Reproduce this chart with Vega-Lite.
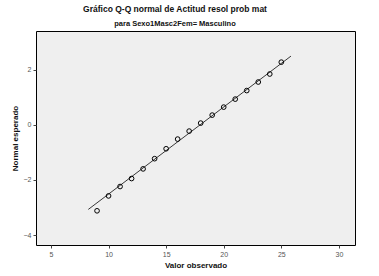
{
  "$schema": "https://vega.github.io/schema/vega-lite/v6.json",
  "width": 319,
  "height": 214,
  "autosize": "none",
  "padding": {"left": 36, "top": 31, "right": 24, "bottom": 31},
  "background": "white",
  "title": {
    "text": "Gráfico Q-Q normal de Actitud resol prob mat",
    "subtitle": "para Sexo1Masc2Fem= Masculino",
    "font": "Liberation Sans",
    "fontSize": 8.5,
    "fontWeight": "bold",
    "color": "#111111",
    "subtitleFont": "Liberation Sans",
    "subtitleFontSize": 7.5,
    "subtitleFontWeight": "bold",
    "subtitleColor": "#111111",
    "subtitlePadding": 6,
    "anchor": "middle",
    "frame": "bounds",
    "offset": 4,
    "dx": -8
  },
  "config": {
    "view": {"fill": "#efefef", "stroke": "#000000", "strokeWidth": 1},
    "axis": {
      "grid": false,
      "domain": false,
      "tickColor": "#444444",
      "tickSize": 3,
      "labelFont": "Liberation Sans",
      "labelFontSize": 7,
      "labelColor": "#555555",
      "labelPadding": 2,
      "titleFont": "Liberation Sans",
      "titleFontSize": 8,
      "titleFontWeight": "bold",
      "titleColor": "#111111"
    }
  },
  "datasets": {
    "points": [
      {"observado": 9, "esperado": -3.12},
      {"observado": 10, "esperado": -2.58},
      {"observado": 11, "esperado": -2.24},
      {"observado": 12, "esperado": -1.95},
      {"observado": 13, "esperado": -1.6},
      {"observado": 14, "esperado": -1.23},
      {"observado": 15, "esperado": -0.87},
      {"observado": 16, "esperado": -0.52},
      {"observado": 17, "esperado": -0.23},
      {"observado": 18, "esperado": 0.06},
      {"observado": 19, "esperado": 0.35},
      {"observado": 20, "esperado": 0.64},
      {"observado": 21, "esperado": 0.93},
      {"observado": 22, "esperado": 1.24},
      {"observado": 23, "esperado": 1.55},
      {"observado": 24, "esperado": 1.84},
      {"observado": 25, "esperado": 2.27}
    ],
    "line": [
      {"observado": 8.24, "esperado": -3.07},
      {"observado": 25.84, "esperado": 2.49}
    ]
  },
  "layer": [
    {
      "data": {"name": "line"},
      "mark": {"type": "line", "color": "#222222", "strokeWidth": 0.9},
      "encoding": {
        "x": {"field": "observado", "type": "quantitative",
              "scale": {"domain": [3.7, 31.4], "nice": false, "zero": false},
              "axis": {"values": [5, 10, 15, 20, 25, 30], "title": "Valor observado", "titlePadding": 4}},
        "y": {"field": "esperado", "type": "quantitative",
              "scale": {"domain": [-4.36, 3.4], "nice": false, "zero": false},
              "axis": {"values": [-4, -2, 0, 2], "title": "Normal esperado", "titlePadding": 4}}
      }
    },
    {
      "data": {"name": "points"},
      "mark": {"type": "point", "shape": "circle", "filled": false, "color": "#000000", "strokeWidth": 1, "size": 22, "opacity": 1},
      "encoding": {
        "x": {"field": "observado", "type": "quantitative"},
        "y": {"field": "esperado", "type": "quantitative"}
      }
    }
  ]
}
